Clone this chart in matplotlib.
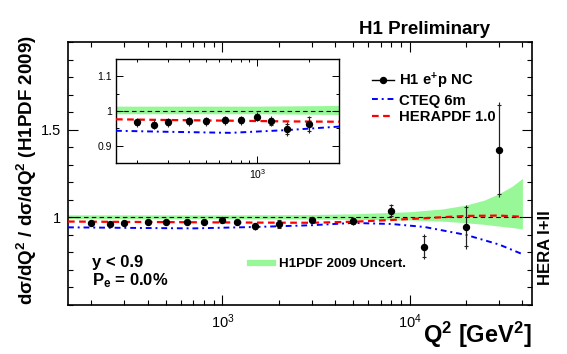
import matplotlib
matplotlib.use('Agg')
import matplotlib.pyplot as plt
from matplotlib.lines import Line2D
from matplotlib.ticker import FixedLocator, FixedFormatter, MultipleLocator, LogLocator, NullFormatter

# Data
q2 = [200, 250, 300, 400, 500, 650, 800, 1000, 1200, 1500, 2000, 3000, 5000, 8000, 12000, 20000, 30000]
ratio = [0.967, 0.961, 0.968, 0.971, 0.971, 0.974, 0.974, 0.983, 0.971, 0.948, 0.962, 0.985, 0.979,
         1.038, 0.833, 0.947, 1.386]
err_tot = [0.013, 0.013, 0.013, 0.013, 0.013, 0.013, 0.013, 0.013, 0.015, 0.02, 0.025, 0.018, 0.022,
           0.038, 0.07, 0.125, 0.27]
err_stat = [0.008, 0.008, 0.008, 0.008, 0.008, 0.008, 0.008, 0.009, 0.010, 0.015, 0.020, 0.014, 0.018,
            0.032, 0.060, 0.112, 0.255]

band_q2 = [150, 1000, 3000, 5000, 10000, 15000, 20000, 25000, 30000, 35000, 40000]
band_lo = [0.992, 0.992, 0.990, 0.988, 0.985, 0.978, 0.969, 0.960, 0.950, 0.942, 0.934]
band_hi = [1.014, 1.014, 1.016, 1.020, 1.032, 1.048, 1.070, 1.098, 1.135, 1.175, 1.222]

curve_q2 = [150, 300, 700, 1500, 3000, 5000, 8000, 12000, 20000, 30000, 40000]
herapdf = [0.976, 0.974, 0.972, 0.970, 0.969, 0.975, 0.985, 0.995, 1.008, 1.010, 1.003]
cteq = [0.943, 0.940, 0.937, 0.945, 0.955, 0.968, 0.962, 0.945, 0.900, 0.845, 0.790]

W, H = 567, 354
GREEN = '#98f898'
RED_DASH = (0, (3, 2))
BLUE_DASHDOT = (0, (3, 2, 1, 2))

plt.rcParams['font.family'] = ['Liberation Sans', 'DejaVu Sans']
plt.rcParams['mathtext.fontset'] = 'custom'
plt.rcParams['mathtext.rm'] = 'Liberation Sans'
plt.rcParams['mathtext.bf'] = 'Liberation Sans:bold'
plt.rcParams['mathtext.default'] = 'regular'


def px_axes(fig, left, top, right, bottom):
    return fig.add_axes([left / W, 1 - bottom / H, (right - left) / W, (bottom - top) / H])


def draw_content(axes, q2_max):
    axes.fill_between(band_q2, band_lo, band_hi, color=GREEN, lw=0, zorder=1)
    axes.plot([band_q2[0], band_q2[-1]], [1.0, 1.0], color='k', ls=(0, (4, 3)), lw=0.8, zorder=2)
    axes.plot(curve_q2, cteq, color='blue', ls=BLUE_DASHDOT, lw=1.4, zorder=3)
    axes.plot(curve_q2, herapdf, color='red', ls=RED_DASH, lw=1.6, zorder=3)
    sel = [i for i in range(len(q2)) if q2[i] < q2_max]
    xs = [q2[i] for i in sel]
    ys = [ratio[i] for i in sel]
    axes.errorbar(xs, ys, yerr=[err_tot[i] for i in sel], fmt='none', ecolor='#222222',
                  elinewidth=0.8, zorder=4)
    axes.errorbar(xs, ys, yerr=[err_stat[i] for i in sel], fmt='o', color='k', ms=4.3,
                  ecolor='#222222', elinewidth=0.8, capsize=1.5, capthick=0.8, zorder=5)


fig = plt.figure(figsize=(W / 100, H / 100), dpi=100)

# main panel
ax = px_axes(fig, 68, 42, 532, 305)
draw_content(ax, 1e6)
ax.set_xscale('log')
ax.set_xlim(150, 45000)
ax.set_ylim(0.5, 2.0)
ax.yaxis.set_major_locator(FixedLocator([1.0, 1.5]))
ax.yaxis.set_major_formatter(FixedFormatter(['1', '1.5']))
ax.yaxis.set_minor_locator(MultipleLocator(0.1))
ax.xaxis.set_major_locator(LogLocator(base=10))
ax.xaxis.set_minor_locator(LogLocator(base=10, subs=range(2, 10)))
ax.xaxis.set_minor_formatter(NullFormatter())
ax.tick_params(which='both', direction='in', top=True, right=True, width=0.8)
ax.tick_params(which='major', length=7.5, labelsize=10.5, pad=5)
ax.tick_params(which='minor', length=3.8)
for s in ax.spines.values():
    s.set_linewidth(1.2)

# inset panel
axi = px_axes(fig, 116, 59, 339, 163)
draw_content(axi, 2500)
axi.set_xscale('log')
axi.set_xlim(150, 3000)
axi.set_ylim(0.85, 1.15)
axi.yaxis.set_major_locator(FixedLocator([0.9, 1.0, 1.1]))
axi.yaxis.set_major_formatter(FixedFormatter(['0.9', '1', '1.1']))
axi.yaxis.set_minor_locator(MultipleLocator(0.05))
axi.xaxis.set_major_locator(LogLocator(base=10))
axi.xaxis.set_minor_locator(LogLocator(base=10, subs=range(2, 10)))
axi.xaxis.set_minor_formatter(NullFormatter())
axi.tick_params(which='both', direction='in', top=True, right=True, width=0.7)
axi.tick_params(which='major', length=5, labelsize=7.5, pad=3)
axi.tick_params(which='minor', length=2.5)
for s in axi.spines.values():
    s.set_linewidth(1.0)

# legends
handles = [
    Line2D([], [], color='k', marker='o', ms=4.3, lw=1.0),
    Line2D([], [], color='blue', ls=BLUE_DASHDOT, lw=1.4),
    Line2D([], [], color='red', ls=RED_DASH, lw=1.6),
]
leg = ax.legend(handles, ['H1 e$^{+}$p NC', 'CTEQ 6m', 'HERAPDF 1.0'],
                loc='upper left', bbox_to_anchor=(372 / W, 1 - 71 / H), bbox_transform=fig.transFigure,
                frameon=False, borderpad=0, borderaxespad=0, handlelength=1.45, handletextpad=0.35,
                labelspacing=0.15, prop={'weight': 'bold', 'size': 10.7})
ax.add_artist(leg)
ax.legend([Line2D([], [], color=GREEN, lw=4.5)], ['H1PDF 2009 Uncert.'],
          loc='upper left', bbox_to_anchor=(250 / W, 1 - 258 / H), bbox_transform=fig.transFigure,
          frameon=False, borderpad=0, borderaxespad=0, handlelength=1.7, handletextpad=0.5,
          prop={'weight': 'bold', 'size': 9.6})

# annotations
fig.text(92 / W, 1 - 262 / H, 'y < 0.9', fontsize=12, weight='bold', va='center')
fig.text(92 / W, 1 - 281 / H, 'P$_e$ = 0.0%', fontsize=12, weight='bold', va='center')
fig.text(490 / W, 1 - 30 / H, 'H1 Preliminary', fontsize=13.5, weight='bold', ha='right', va='center')
fig.text(545 / W, 1 - 248 / H, 'HERA I+II', fontsize=12, weight='bold', rotation=90,
         ha='center', va='center')
fig.text(27 / W, 1 - 170 / H, 'd\u03c3/dQ$^2$ / d\u03c3/dQ$^2$ (H1PDF 2009)', fontsize=13.5,
         weight='bold', rotation=90, ha='center', va='center')
fig.text(532 / W, 1 - 335 / H, 'Q$^2$ [GeV$^2$]', fontsize=17, weight='bold', ha='right', va='center')

fig.savefig('out.png', dpi=100)
